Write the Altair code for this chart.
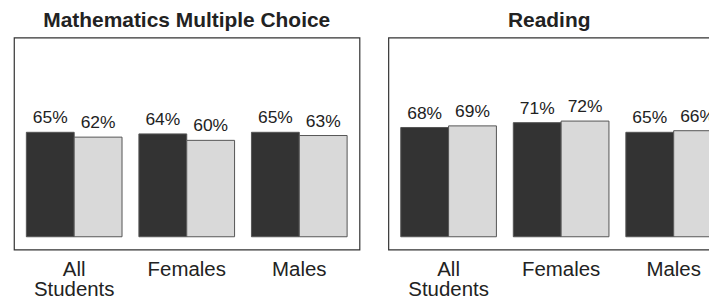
import altair as alt
import pandas as pd

groups = ["All Students", "Females", "Males"]
series = ["First", "Second"]
math_first = [65, 64, 65]
math_second = [62, 60, 63]
read_first = [68, 71, 65]
read_second = [69, 72, 66]


def make_df(first, second):
    rows = []
    for g, a, b in zip(groups, first, second):
        rows.append({"group": g, "series": series[0], "value": a})
        rows.append({"group": g, "series": series[1], "value": b})
    return pd.DataFrame(rows)


def panel(df, title, dx):
    base = alt.Chart(df).encode(
        x=alt.X(
            "group:N",
            sort=groups,
            scale=alt.Scale(paddingInner=0.15, paddingOuter=0.11),
            axis=alt.Axis(
                title=None, labelAngle=0, domain=False, ticks=False,
                labelFontSize=20.5, labelColor="#222", labelPadding=10,
                labelLineHeight=20, labelExpr="split(datum.label, ' ')",
            ),
        ),
        xOffset=alt.XOffset("series:N", sort=series,
                            scale=alt.Scale(paddingInner=0, paddingOuter=0)),
        y=alt.Y("value:Q", scale=alt.Scale(domain=[-8, 124], nice=False, zero=False), axis=None),
    )
    bars = base.mark_bar(stroke="#555", strokeWidth=1).encode(
        y2=alt.datum(0),
        color=alt.Color("series:N", scale=alt.Scale(domain=series, range=["#333333", "#d9d9d9"]), legend=None),
    )
    labels = base.mark_text(baseline="alphabetic", dy=-9, fontSize=17.5, color="#222").encode(
        text="label:N"
    ).transform_calculate(label="datum.value + '%'")
    return alt.layer(bars, labels).properties(
        width=347, height=213,
        title=alt.TitleParams(title, fontSize=21, fontWeight="bold", color="#222",
                              offset=7, dx=dx, anchor="middle"),
    )


left = panel(make_df(math_first, math_second), "Mathematics Multiple Choice", 0)
right = panel(make_df(read_first, read_second), "Reading", -12)

chart = alt.hconcat(left, right, spacing=27).properties(
    padding={"left": 5, "top": 0, "right": -26, "bottom": 5}
).configure(font="Liberation Sans").configure_view(stroke="#333", strokeWidth=1.2)

chart.save("out.html", embed_options={"renderer": "svg", "actions": False})
